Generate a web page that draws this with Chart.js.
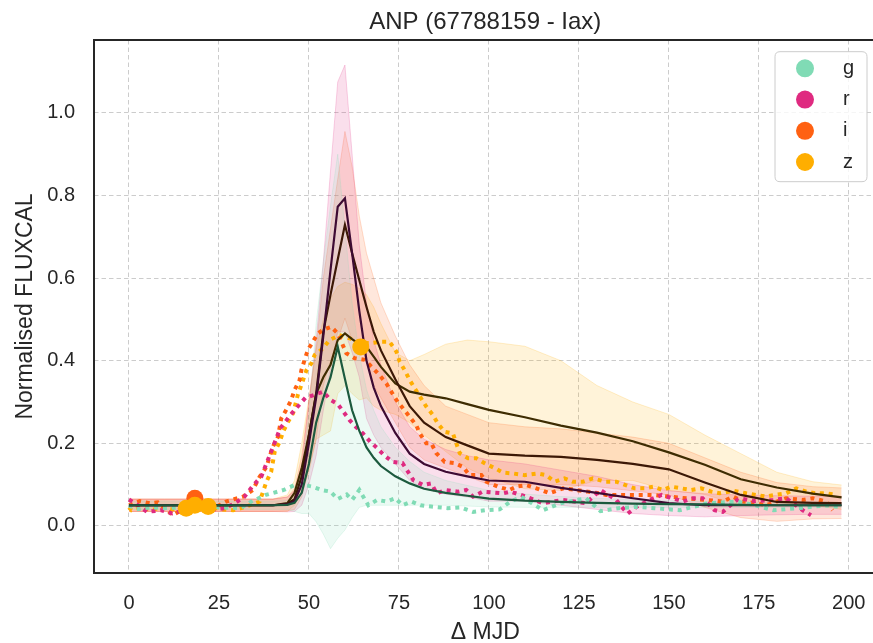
<!DOCTYPE html>
<html><head><meta charset="utf-8">
<script src="https://cdn.jsdelivr.net/npm/chart.js@4.4.1/dist/chart.umd.min.js"></script>
<style>
html,body{margin:0;padding:0;background:#fff;overflow:hidden;width:873px;height:643px}
#wrap{position:relative;width:873px;height:643px;overflow:hidden}
canvas{display:block}
</style></head>
<body><div id="wrap"><canvas id="c" width="885" height="643"></canvas></div>
<script>
// ---------- DATA ----------
const titleText = "ANP (67788159 - Iax)";
const xLabel = "\u0394 MJD";
const yLabel = "Normalised FLUXCAL";
const bandNames = ["g", "r", "i", "z"];
const xTickStep = 25;
const yTickStep = 0.2;

// model time grid (days)
const T = [0,10,20,30,40,44,46,48,50,52, 54,56,58,60,62,64,66,68,70,74, 78,82,88,94,100,110,120,130,140,150, 160,170,180,190,198];

const gMean = [0.05,0.05,0.05,0.05,0.05,0.051,0.056,0.08,0.15,0.25, 0.31,0.36,0.434,0.356,0.28,0.23,0.19,0.165,0.145,0.12, 0.103,0.09,0.08,0.073,0.066,0.061,0.058,0.056,0.054,0.053, 0.052,0.051,0.05,0.05,0.05];
const gLo   = [0.04,0.04,0.04,0.04,0.04,0.04,0.035,0.03,0.03,0.01, -0.02,-0.055,-0.03,-0.01,0.02,0.045,0.05,0.05,0.05,0.05, 0.05,0.05,0.05,0.048,0.046,0.045,0.045,0.045,0.045,0.045, 0.045,0.045,0.045,0.045,0.045];
const gHi   = [0.06,0.06,0.06,0.06,0.06,0.062,0.077,0.13,0.27,0.49, 0.64,0.775,0.9,0.72,0.54,0.415,0.33,0.28,0.24,0.19, 0.156,0.13,0.11,0.098,0.086,0.077,0.071,0.067,0.063,0.061, 0.059,0.057,0.055,0.055,0.055];

const rMean = [0.05,0.05,0.05,0.05,0.05,0.052,0.06,0.1,0.2,0.31, 0.46,0.62,0.773,0.793,0.66,0.52,0.4,0.335,0.29,0.225, 0.175,0.15,0.131,0.12,0.11,0.107,0.092,0.08,0.067,0.055, 0.05,0.05,0.05,0.05,0.05];
const rLo   = [0.035,0.035,0.035,0.035,0.035,0.034,0.035,0.05,0.1,0.17, 0.28,0.38,0.47,0.47,0.42,0.36,0.26,0.22,0.19,0.15, 0.11,0.09,0.077,0.07,0.06,0.06,0.05,0.04,0.03,0.025, 0.022,0.025,0.027,0.028,0.028];
const rHi   = [0.065,0.065,0.065,0.065,0.065,0.07,0.085,0.15,0.3,0.45, 0.64,0.86,1.075,1.116,0.9,0.68,0.54,0.45,0.39,0.3, 0.24,0.21,0.185,0.17,0.16,0.15,0.135,0.12,0.1,0.085, 0.078,0.075,0.073,0.072,0.072];

const iMean = [0.05,0.05,0.05,0.05,0.05,0.053,0.065,0.12,0.22,0.32, 0.47,0.56,0.645,0.729,0.66,0.595,0.53,0.47,0.425,0.355, 0.29,0.25,0.215,0.195,0.175,0.17,0.167,0.16,0.15,0.137, 0.105,0.075,0.058,0.056,0.055];
const iLo   = [0.035,0.035,0.035,0.035,0.035,0.036,0.04,0.07,0.14,0.21, 0.34,0.4,0.45,0.503,0.45,0.44,0.4,0.34,0.31,0.25, 0.19,0.16,0.14,0.12,0.1,0.1,0.1,0.095,0.085,0.075, 0.045,0.02,0.011,0.017,0.018];
const iHi   = [0.065,0.065,0.065,0.065,0.065,0.07,0.09,0.17,0.3,0.43, 0.6,0.72,0.84,0.955,0.87,0.75,0.66,0.6,0.54,0.46, 0.39,0.34,0.29,0.27,0.25,0.24,0.235,0.225,0.215,0.2, 0.165,0.13,0.105,0.095,0.092];

const zMean = [0.05,0.05,0.05,0.05,0.05,0.055,0.08,0.14,0.22,0.32, 0.36,0.39,0.45,0.466,0.452,0.44,0.434,0.41,0.385,0.345, 0.325,0.318,0.309,0.295,0.281,0.263,0.243,0.226,0.205,0.178, 0.148,0.113,0.093,0.078,0.069];
const zLo   = [0.035,0.035,0.035,0.035,0.035,0.035,0.05,0.08,0.13,0.21, 0.22,0.23,0.32,0.34,0.32,0.305,0.31,0.29,0.28,0.27, 0.25,0.22,0.18,0.14,0.116,0.09,0.086,0.11,0.11,0.086, 0.076,0.05,0.056,0.05,0.04];
const zHi   = [0.065,0.065,0.065,0.065,0.065,0.075,0.11,0.2,0.31,0.43, 0.5,0.55,0.58,0.59,0.585,0.575,0.56,0.53,0.49,0.42, 0.4,0.415,0.44,0.45,0.446,0.435,0.4,0.34,0.3,0.27, 0.22,0.175,0.13,0.107,0.099];

// dotted curves
const gDotT = [0,2,6,10,15,20,25,31,34,38, 43,46,48,51,53.5,56,58,60.5,62,64, 66.5,69,71.5,74,76,78.5,81,84,88.5,92, 95.6,99,103,106,109,112,115,120,127,131, 136,141,146,153,161,169,174,179,186,194, 197];
const gDotV = [0.05,0.04,0.045,0.043,0.045,0.05,0.045,0.043,0.059,0.075, 0.087,0.099,0.1,0.095,0.087,0.083,0.065,0.076,0.063,0.087, 0.05,0.063,0.059,0.067,0.05,0.059,0.05,0.047,0.043,0.045, 0.034,0.038,0.04,0.059,0.07,0.055,0.038,0.055,0.067,0.036, 0.043,0.046,0.043,0.038,0.055,0.059,0.05,0.038,0.043,0.05, 0.046];

const rDotT = [0,2.5,5,9,12,16,20,24,26.6,29.4, 32,34.4,36.8,39.5,42,45,49,54,56,58, 61.3,63,65,67,69,71,73.3,76,79,81.7, 84,85.5,88,91.4,93.7,95.6,98.3,104,106,110.4, 115,120.6,127,131,135.4,137.2,138.6,141,144.6,148, 154,156.7,159.4,162.7,165,167.8,169.6,174,179,182.6, 187.2,189.5];
const rDotV = [0.064,0.05,0.034,0.038,0.03,0.04,0.045,0.04,0.043,0.055, 0.07,0.097,0.12,0.18,0.236,0.27,0.31,0.325,0.305,0.295, 0.256,0.24,0.224,0.204,0.188,0.17,0.155,0.152,0.111,0.099, 0.103,0.079,0.087,0.083,0.087,0.071,0.083,0.079,0.083,0.071, 0.055,0.063,0.055,0.087,0.063,0.043,0.03,0.046,0.063,0.075, 0.059,0.067,0.067,0.038,0.034,0.055,0.067,0.06,0.063,0.067, 0.038,0.026];

const iDotT = [0,3,5.8,8,12.2,16,20,24,27,31.7, 34.4,36.3,38.2,39.1,40,41.4,42.3,43.7,45.1,46, 47.4,47.9,48.8,49.7,51.1,52.5,54,56.2,58,60.4, 62.7,65.5,67.8,69.6,71.5,72.9,74.3,76.1,78,79.8, 80.8,82.6,84,85.4,87.7,90.5,92.8,94.6,97.9,99.3, 102.5,105.7,107.6,110.4,113.2,116.9,120.6,124.3,127.5,130.7, 132.6,140,145.6,150.2,154.8,160.4,165,167.8,170.6,174.3, 177,182.6,187.2,190,193.7,195.5];
const iDotV = [0.05,0.06,0.055,0.057,0.026,0.045,0.05,0.045,0.059,0.071, 0.087,0.119,0.143,0.168,0.192,0.216,0.26,0.281,0.305,0.329, 0.353,0.377,0.402,0.426,0.446,0.466,0.475,0.482,0.466,0.418, 0.406,0.402,0.382,0.365,0.345,0.325,0.305,0.285,0.264,0.244, 0.224,0.2,0.2,0.176,0.155,0.152,0.143,0.123,0.123,0.107, 0.095,0.087,0.095,0.099,0.091,0.079,0.091,0.087,0.083,0.079, 0.075,0.075,0.075,0.071,0.067,0.063,0.059,0.071,0.059,0.055, 0.05,0.067,0.063,0.067,0.059,0.038];

const zDotT = [0,0.7,3,6.2,9,12,15,19,23,26, 28.9,31.2,33.5,36.3,38.2,39.5,40.5,41.9,42.8,44.2, 45.6,46.9,47.9,49.3,50.7,51.6,53.9,55.7,58.5,61, 64,66.9,70.1,72.4,74.3,75.2,76.6,78,79.4,82.6, 84.4,85.8,87.7,90,91.9,94.2,96.5,98.8,101.6,103.9, 106.7,109.9,113.6,115.9,118.3,121,123.3,126.1,128.9,130.7, 132.6,135.4,140.5,143.2,145.6,148.3,150.7,153.4,156.2,159, 161.8,164.1,168,171.5,177,179.4,182.6,185.4,188.2,190.9, 193.7,196.5];
const zDotV = [0.045,0.038,0.045,0.038,0.045,0.04,0.045,0.05,0.045,0.04, 0.038,0.043,0.05,0.059,0.107,0.131,0.18,0.204,0.228,0.252, 0.273,0.317,0.341,0.377,0.394,0.414,0.43,0.45,0.462,0.455, 0.445,0.442,0.446,0.446,0.422,0.398,0.377,0.353,0.333,0.289, 0.269,0.248,0.228,0.224,0.176,0.164,0.164,0.152,0.14,0.129, 0.127,0.123,0.127,0.123,0.107,0.115,0.107,0.107,0.115,0.111, 0.107,0.107,0.091,0.091,0.095,0.087,0.095,0.091,0.087,0.091, 0.083,0.079,0.085,0.079,0.071,0.075,0.079,0.091,0.083,0.079, 0.079,0.075];

// observations (large markers)
const iObsT = [18.3];
const iObsV = [0.067];
const zObsT = [15.9, 18.3, 22.0, 64.4];
const zObsV = [0.043, 0.05, 0.047, 0.433];

// ---------- STYLE ----------
const light = { g: '#80dbb5', r: '#df2a80', i: '#ff6112', z: '#ffae00' };
const dark  = { g: '#1c5a3e', r: '#3e0b33', i: '#3c1806', z: '#3e2c02' };
const FONT = "'Liberation Sans', Arial, Helvetica, sans-serif";
const TXT = '#262626';

function pts(xs, ys){ return xs.map((x, k) => ({ x: x, y: ys[k] })); }
function rgba(hex, a){
  const n = parseInt(hex.slice(1), 16);
  return `rgba(${(n>>16)&255},${(n>>8)&255},${n&255},${a})`;
}

const model = {
  g: { mean: gMean, lo: gLo, hi: gHi },
  r: { mean: rMean, lo: rLo, hi: rHi },
  i: { mean: iMean, lo: iLo, hi: iHi },
  z: { mean: zMean, lo: zLo, hi: zHi }
};
const dotted = {
  g: [gDotT, gDotV], r: [rDotT, rDotV], i: [iDotT, iDotV], z: [zDotT, zDotV]
};

const datasets = [];
bandNames.forEach(b => {
  datasets.push({ type: 'line', data: pts(T, model[b].lo), borderColor: rgba(light[b], 0.2), borderWidth: 1,
    pointRadius: 0, fill: false, tension: 0, order: 10 });
  datasets.push({ type: 'line', data: pts(T, model[b].hi), borderColor: rgba(light[b], 0.2), borderWidth: 1,
    pointRadius: 0, fill: '-1', backgroundColor: rgba(light[b], 0.15), tension: 0, order: 10 });
});
bandNames.forEach(b => {
  datasets.push({ type: 'line', data: pts(dotted[b][0], dotted[b][1]), borderColor: light[b], borderWidth: 4,
    borderDash: [4, 4.8], borderCapStyle: 'butt', pointRadius: 0, fill: false, tension: 0, order: 6 });
});
bandNames.forEach(b => {
  datasets.push({ type: 'line', data: pts(T, model[b].mean), borderColor: dark[b], borderWidth: 2.2,
    pointRadius: 0, fill: false, tension: 0, order: 4 });
});
datasets.push({ type: 'scatter', data: pts(iObsT, iObsV), backgroundColor: light.i, borderWidth: 0, pointRadius: 8.5, order: 2 });
datasets.push({ type: 'scatter', data: pts(zObsT, zObsV), backgroundColor: light.z, borderWidth: 0, pointRadius: 8.5, order: 1 });

const decor = {
  id: 'decor',
  afterDatasetsDraw(chart){
    const { ctx, chartArea: a } = chart;
    ctx.save();
    ctx.strokeStyle = TXT; ctx.lineWidth = 2;
    ctx.strokeRect(a.left, a.top, a.right - a.left, a.bottom - a.top);
    ctx.restore();
  },
  afterDraw(chart){
    const { ctx, chartArea: a } = chart;
    ctx.save();
    ctx.fillStyle = TXT;
    // title
    ctx.font = `24px ${FONT}`; ctx.textAlign = 'center'; ctx.textBaseline = 'alphabetic';
    ctx.fillText(titleText, (a.left + a.right) / 2, 29);
    // x label
    ctx.font = `23px ${FONT}`;
    ctx.fillText(xLabel, (a.left + a.right) / 2, 639);
    // y label
    ctx.save();
    ctx.translate(31.5, (a.top + a.bottom) / 2);
    ctx.rotate(-Math.PI / 2);
    ctx.fillText(yLabel, 0, 0);
    ctx.restore();
    // legend
    const lx = 775, ly = 51.7, lw = 92, lh = 130, rr = 5;
    ctx.beginPath();
    ctx.moveTo(lx + rr, ly); ctx.lineTo(lx + lw - rr, ly); ctx.quadraticCurveTo(lx + lw, ly, lx + lw, ly + rr);
    ctx.lineTo(lx + lw, ly + lh - rr); ctx.quadraticCurveTo(lx + lw, ly + lh, lx + lw - rr, ly + lh);
    ctx.lineTo(lx + rr, ly + lh); ctx.quadraticCurveTo(lx, ly + lh, lx, ly + lh - rr);
    ctx.lineTo(lx, ly + rr); ctx.quadraticCurveTo(lx, ly, lx + rr, ly); ctx.closePath();
    ctx.fillStyle = 'rgba(255,255,255,0.8)'; ctx.fill();
    ctx.strokeStyle = '#cccccc'; ctx.lineWidth = 1; ctx.stroke();
    const rows = [68.3, 99.6, 130.8, 162];
    ctx.font = `20px ${FONT}`; ctx.textAlign = 'left'; ctx.textBaseline = 'middle';
    bandNames.forEach((b, k) => {
      ctx.beginPath(); ctx.arc(805, rows[k], 9, 0, Math.PI * 2);
      ctx.fillStyle = light[b]; ctx.fill();
      ctx.fillStyle = TXT; ctx.fillText(b, 843, rows[k]);
    });
    ctx.restore();
  }
};

new Chart(document.getElementById('c'), {
  type: 'line',
  data: { datasets },
  options: {
    responsive: false, animation: false, devicePixelRatio: 1,
    layout: { padding: { left: 0, top: 40, right: 8, bottom: 0 } },
    plugins: { legend: { display: false }, tooltip: { enabled: false }, title: { display: false } },
    scales: {
      x: {
        type: 'linear', min: -9.72, max: 207.7,
        afterFit: s => { s.height = 70; },
        ticks: { stepSize: xTickStep, includeBounds: false, autoSkip: false, maxRotation: 0, color: TXT,
          font: { family: FONT, size: 20 }, padding: 18 },
        grid: { color: '#cccccc', lineWidth: 1, drawTicks: false },
        border: { display: false, dash: [4.5, 3] }
      },
      y: {
        type: 'linear', min: -0.114, max: 1.1765,
        afterFit: s => { s.width = 94; },
        ticks: { stepSize: yTickStep, includeBounds: false, color: TXT, font: { family: FONT, size: 20 }, padding: 19,
          callback: v => Number(v).toFixed(1) },
        grid: { color: '#cccccc', lineWidth: 1, drawTicks: false },
        border: { display: false, dash: [4.5, 3] }
      }
    }
  },
  plugins: [decor]
});
</script>
</body></html>
